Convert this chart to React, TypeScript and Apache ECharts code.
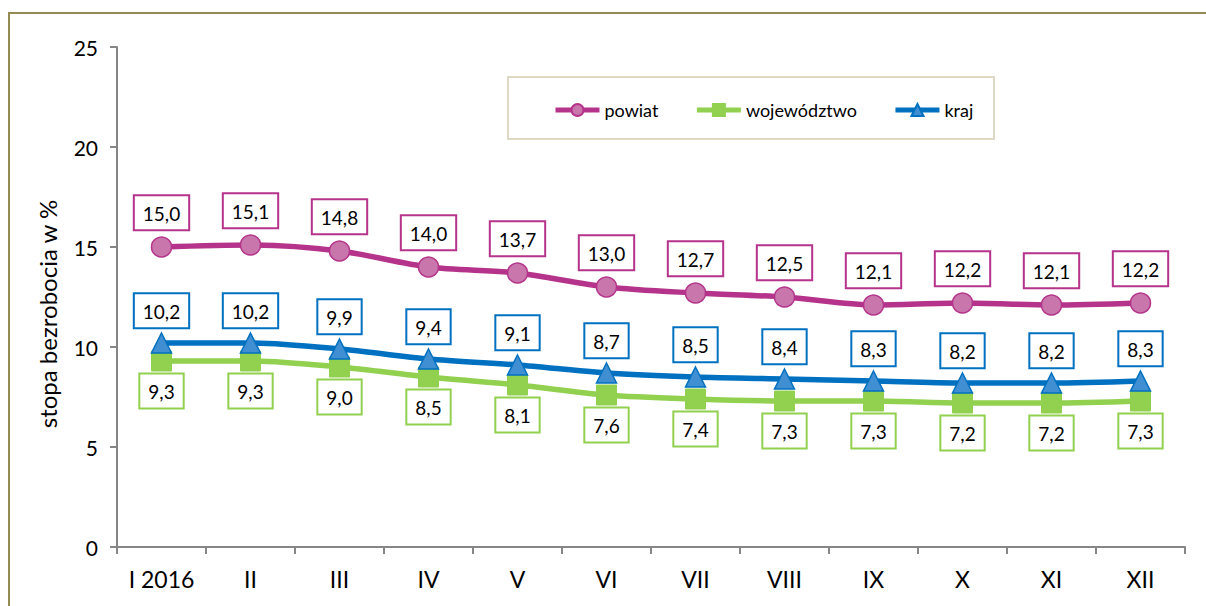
import React, { useEffect, useRef } from "react";
import * as echarts from "echarts";

const categories = ["I 2016", "II", "III", "IV", "V", "VI", "VII", "VIII", "IX", "X", "XI", "XII"];
const powiat = [15.0, 15.1, 14.8, 14.0, 13.7, 13.0, 12.7, 12.5, 12.1, 12.2, 12.1, 12.2];
const wojewodztwo = [9.3, 9.3, 9.0, 8.5, 8.1, 7.6, 7.4, 7.3, 7.3, 7.2, 7.2, 7.3];
const kraj = [10.2, 10.2, 9.9, 9.4, 9.1, 8.7, 8.5, 8.4, 8.3, 8.2, 8.2, 8.3];
const yTicks = { min: 0, max: 25, interval: 5 };

const FONT = "Lato, 'Open Sans', sans-serif";
const fmt = (v: number) => v.toFixed(1).replace(".", ",");

function labelCfg(color: string, position: "top" | "bottom", distance: number) {
  return {
    show: true,
    position,
    distance,
    formatter: (p: any) => fmt(p.value),
    color: "#000",
    fontFamily: FONT,
    fontSize: 19,
    lineHeight: 20,
    backgroundColor: "#fff",
    borderColor: color,
    borderWidth: 2,
    padding: [7, 8, 6, 8],
  };
}

export default function App() {
  const ref = useRef<HTMLDivElement>(null);
  useEffect(() => {
    if (!ref.current) return;
    const chart = echarts.init(ref.current, null, { renderer: "svg" });
    chart.setOption({
      animation: false,
      backgroundColor: "#fff",
      textStyle: { fontFamily: FONT },
      grid: { left: 117, right: 21, top: 47, bottom: 59, containLabel: false },
      legend: {
        left: 548,
        top: 96,
        itemWidth: 44,
        itemHeight: 15,
        itemGap: 36,
        lineStyle: { width: 5 },
        textStyle: { fontSize: 18, color: "#000", fontFamily: FONT },
        data: ["powiat", "województwo", "kraj"],
      },
      graphic: [
        {
          type: "rect",
          silent: true,
          z: -10,
          shape: { x: 9, y: 13, width: 1300, height: 700 },
          style: { fill: "none", stroke: "#948A54", lineWidth: 2 },
        },
        {
          type: "rect",
          silent: true,
          z: -5,
          shape: { x: 508, y: 77, width: 486, height: 62 },
          style: { fill: "#fff", stroke: "#DDD9C4", lineWidth: 2 },
        },
        {
          type: "text",
          x: 47,
          y: 314,
          rotation: Math.PI / 2,
          style: {
            text: "stopa bezrobocia w %",
            fontFamily: FONT,
            fontSize: 24,
            fill: "#000",
            align: "center",
            verticalAlign: "middle",
          },
        },
      ],
      xAxis: {
        type: "category",
        data: categories,
        boundaryGap: true,
        axisLine: { lineStyle: { color: "#868686", width: 2 } },
        axisTick: { show: true, length: 7, alignWithLabel: false, lineStyle: { color: "#868686", width: 2 } },
        axisLabel: { color: "#000", fontSize: 23, margin: 20, fontFamily: FONT, interval: 0 },
        splitLine: { show: false },
      },
      yAxis: {
        type: "value",
        min: yTicks.min,
        max: yTicks.max,
        interval: yTicks.interval,
        axisLine: { show: true, lineStyle: { color: "#868686", width: 2 } },
        axisTick: { show: true, length: 7, lineStyle: { color: "#868686", width: 2 } },
        axisLabel: { color: "#000", fontSize: 21, margin: 19, fontFamily: FONT },
        splitLine: { show: false },
      },
      series: [
        {
          name: "powiat",
          type: "line",
          data: powiat,
          smooth: 0.3,
          z: 3,
          symbol: "circle",
          symbolSize: 20,
          lineStyle: { color: "#B5338A", width: 5.5 },
          itemStyle: { color: "#C876AC", borderColor: "#B5338A", borderWidth: 1.5 },
          label: labelCfg("#B5338A", "top", 7),
        },
        {
          name: "województwo",
          type: "line",
          data: wojewodztwo,
          smooth: 0.3,
          z: 2,
          symbol: "rect",
          symbolSize: 20,
          lineStyle: { color: "#92D050", width: 5.5 },
          itemStyle: { color: "#92D050", borderColor: "#92D050", borderWidth: 1 },
          label: labelCfg("#92D050", "bottom", 3),
        },
        {
          name: "kraj",
          type: "line",
          data: kraj,
          smooth: 0.3,
          z: 4,
          symbol: "triangle",
          symbolSize: [20, 20],
          lineStyle: { color: "#0070C0", width: 5.5 },
          itemStyle: { color: "#3F8FD2", borderColor: "#0070C0", borderWidth: 1.5 },
          label: labelCfg("#0070C0", "top", 5),
        },
      ],
    });
    return () => chart.dispose();
  }, []);
  return (
    <div
      ref={ref}
      style={{ position: "fixed", left: 0, top: 0, width: 1206, height: 606, background: "#fff" }}
    />
  );
}
